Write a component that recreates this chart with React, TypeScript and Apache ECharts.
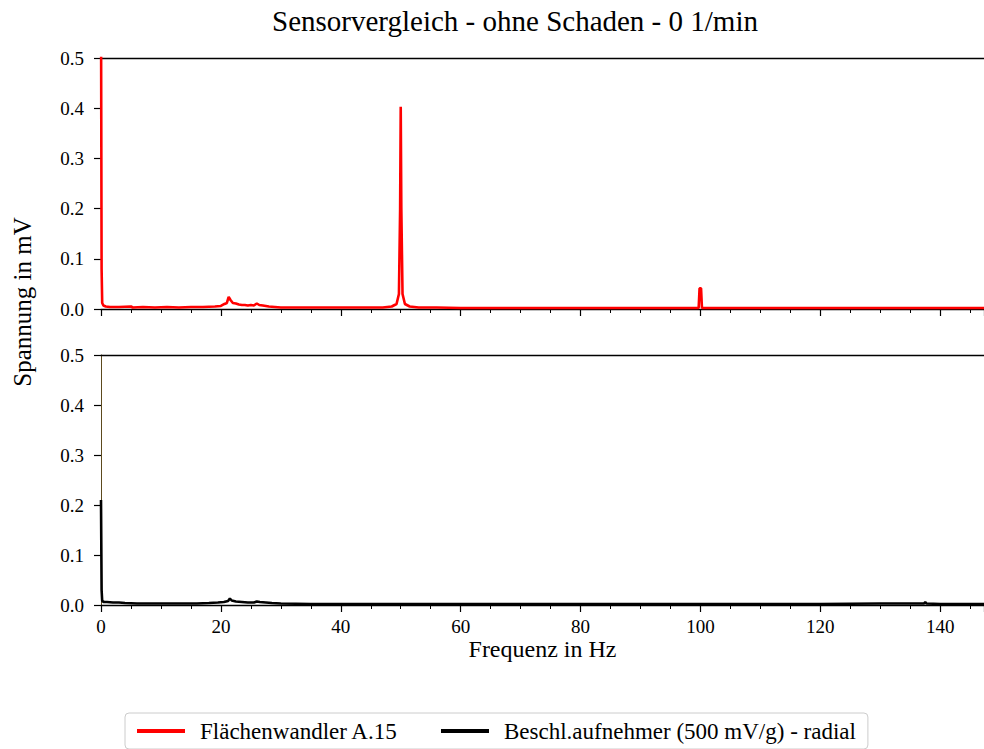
import React, { useEffect, useRef } from "react";
import * as echarts from "echarts";

const titleText = "Sensorvergleich - ohne Schaden - 0 1/min";
const yLabelText = "Spannung in mV";
const xLabelText = "Frequenz in Hz";
const seriesNames = ["Flächenwandler A.15", "Beschl.aufnehmer (500 mV/g) - radial"];
const xRange = [0, 147.3];
const yRange = [0, 0.5];

// Flächenwandler A.15 spectrum [Hz, mV]
const redSpectrum: [number, number][] = [
  [0, 0.62], [0.1, 0.08], [0.2, 0.012], [0.4, 0.007], [0.8, 0.005], [1.5, 0.004], [3, 0.004],
  [5, 0.005], [5.3, 0.003], [7, 0.004], [9, 0.003], [11, 0.004], [13, 0.003], [15, 0.004],
  [17, 0.004], [19, 0.005], [20, 0.006], [20.6, 0.01], [21.0, 0.012], [21.3, 0.024],
  [21.6, 0.018], [22, 0.012], [22.5, 0.011], [23, 0.009], [23.5, 0.008], [24, 0.008],
  [24.5, 0.007], [25, 0.008], [25.5, 0.007], [26, 0.011], [26.4, 0.008], [27, 0.007],
  [27.5, 0.006], [28, 0.005], [29, 0.004], [30, 0.003], [33, 0.003], [36, 0.003], [40, 0.003],
  [44, 0.003], [47, 0.003], [48.5, 0.005], [49.3, 0.01], [49.7, 0.03], [49.9, 0.2], [50, 0.403],
  [50.1, 0.2], [50.3, 0.03], [50.7, 0.01], [51.5, 0.005], [53, 0.003], [56, 0.003], [60, 0.002],
  [65, 0.002], [70, 0.002], [75, 0.002], [80, 0.002], [85, 0.002], [90, 0.002], [95, 0.002],
  [99.7, 0.002], [99.85, 0.041], [100.1, 0.041], [100.25, 0.002], [105, 0.002], [110, 0.002],
  [115, 0.002], [120, 0.002], [125, 0.002], [130, 0.002], [135, 0.002], [140, 0.002],
  [145, 0.002], [147.3, 0.002],
];

// Beschleunigungsaufnehmer spectrum [Hz, mV]
const blackSpectrum: [number, number][] = [
  [0, 0.21], [0.1, 0.03], [0.2, 0.008], [0.5, 0.006], [1, 0.006], [2, 0.005], [3, 0.005],
  [4, 0.004], [6, 0.003], [8, 0.003], [10, 0.003], [12, 0.003], [14, 0.003], [16, 0.003],
  [18, 0.004], [19.5, 0.005], [20.5, 0.006], [21.2, 0.008], [21.5, 0.013], [21.8, 0.009],
  [22.5, 0.007], [23.5, 0.006], [24.5, 0.005], [25.5, 0.005], [26, 0.007], [26.5, 0.006],
  [27.5, 0.005], [28.5, 0.004], [30, 0.003], [35, 0.002], [40, 0.002], [50, 0.002], [60, 0.002],
  [70, 0.002], [80, 0.002], [90, 0.002], [100, 0.002], [110, 0.002], [120, 0.002], [130, 0.003],
  [134, 0.003], [137.3, 0.003], [137.5, 0.006], [137.7, 0.003], [140, 0.002], [147.3, 0.002],
];

const FONT = "'Liberation Serif', 'DejaVu Serif', serif";

export default function App() {
  const ref = useRef<HTMLDivElement>(null);
  useEffect(() => {
    if (!ref.current) return;
    const chart = echarts.init(ref.current, null, { renderer: "svg" });
    const grids = [
      { left: 101, right: 0, top: 58, height: 251 },
      { left: 101, right: 0, top: 355, height: 250 },
    ];
    const bottomX = (gi: number, labels: boolean) => ({
      type: "value",
      gridIndex: gi,
      position: "bottom",
      min: xRange[0],
      max: xRange[1],
      interval: 20,
      axisLine: { show: true, onZero: false, lineStyle: { color: "#000", width: 1.3 } },
      axisTick: { show: true, length: 7, lineStyle: { color: "#000", width: 1.2 } },
      minorTick: { show: true, splitNumber: 4, length: 4, lineStyle: { color: "#000", width: 1 } },
      splitLine: { show: false },
      minorSplitLine: { show: false },
      axisLabel: {
        show: labels,
        showMaxLabel: false,
        margin: 12,
        color: "#000",
        fontFamily: FONT,
        fontSize: 19,
        formatter: (v: number) => (Math.abs(v % 20) < 1e-6 ? String(v) : ""),
      },
      name: labels ? xLabelText : "",
      nameLocation: "middle",
      nameGap: 27,
      nameTextStyle: { color: "#000", fontFamily: FONT, fontSize: 24 },
    });
    const topX = (gi: number) => ({
      type: "value",
      gridIndex: gi,
      position: "top",
      min: xRange[0],
      max: xRange[1],
      interval: 20,
      axisLine: { show: true, onZero: false, lineStyle: { color: "#000", width: 1.3 } },
      axisTick: { show: false },
      axisLabel: { show: false },
      splitLine: { show: false },
    });
    const yAx = (gi: number, lineColor: string | null) => ({
      type: "value",
      gridIndex: gi,
      min: yRange[0],
      max: yRange[1],
      interval: 0.1,
      axisLine: lineColor
        ? { show: true, onZero: false, lineStyle: { color: lineColor, width: 1 } }
        : { show: false },
      axisTick: { show: true, length: 7, lineStyle: { color: "#000", width: 1.2 } },
      splitLine: { show: false },
      axisLabel: {
        margin: 17,
        color: "#000",
        fontFamily: FONT,
        fontSize: 19,
        formatter: (v: number) => v.toFixed(1),
      },
    });
    chart.setOption({
      animation: false,
      backgroundColor: "#fff",
      grid: grids,
      xAxis: [bottomX(0, false), bottomX(1, true), topX(0), topX(1)],
      yAxis: [yAx(0, null), yAx(1, "#5c4a1e")],
      legend: {
        left: 125,
        top: 713,
        padding: [6, 12],
        itemGap: 43,
        itemWidth: 48,
        itemHeight: 4,
        icon: "rect",
        borderColor: "#cccccc",
        borderWidth: 1,
        borderRadius: 4,
        backgroundColor: "#fff",
        textStyle: {
          color: "#000",
          fontFamily: FONT,
          fontSize: 23,
          lineHeight: 24,
          padding: [0, 0, 0, 10],
        },
        data: seriesNames,
      },
      series: [
        {
          name: seriesNames[0],
          type: "line",
          xAxisIndex: 0,
          yAxisIndex: 0,
          data: redSpectrum,
          showSymbol: false,
          symbol: "none",
          color: "#ff0000",
          lineStyle: { color: "#ff0000", width: 2.6 },
          clip: true,
          z: 3,
        },
        {
          name: seriesNames[1],
          type: "line",
          xAxisIndex: 1,
          yAxisIndex: 1,
          data: blackSpectrum,
          showSymbol: false,
          symbol: "none",
          color: "#000000",
          lineStyle: { color: "#000000", width: 2.6 },
          clip: true,
          z: 3,
        },
      ],
      graphic: [
        {
          type: "text",
          x: 515,
          y: 21,
          style: {
            text: titleText,
            fill: "#000",
            font: `29px ${FONT}`,
            textAlign: "center",
            textVerticalAlign: "middle",
          },
        },
        {
          type: "text",
          x: 22,
          y: 302,
          rotation: Math.PI / 2,
          style: {
            text: yLabelText,
            fill: "#000",
            font: `25px ${FONT}`,
            textAlign: "center",
            textVerticalAlign: "middle",
          },
        },
      ],
    });
    return () => chart.dispose();
  }, []);
  return (
    <div
      ref={ref}
      style={{ position: "fixed", left: 0, top: 0, width: 984, height: 749, background: "#fff" }}
    />
  );
}
